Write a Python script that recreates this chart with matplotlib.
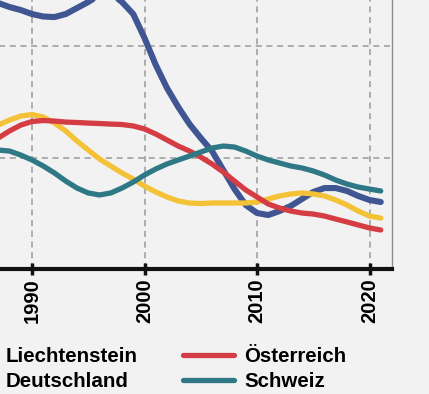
import matplotlib
matplotlib.use('Agg')
import matplotlib.pyplot as plt

years = list(range(1987, 2022))

liechtenstein = [23.86, 23.50, 23.23, 22.87, 22.65, 22.60, 22.87, 23.41, 23.95, 24.60,
                 24.75, 23.95, 22.87, 20.72, 18.30, 16.23, 14.53, 13.00, 11.75, 10.58,
                 8.88, 7.17, 5.74, 5.02, 4.84, 5.20, 5.65, 6.28, 6.91, 7.26,
                 7.26, 7.00, 6.55, 6.19, 6.01]
oesterreich = [11.75, 12.38, 12.91, 13.23, 13.32, 13.27, 13.18, 13.14, 13.09, 13.05,
               13.00, 12.96, 12.83, 12.56, 12.11, 11.57, 11.03, 10.58, 10.04, 9.42,
               8.70, 7.89, 7.09, 6.46, 5.83, 5.47, 5.20, 5.02, 4.93, 4.75,
               4.48, 4.22, 3.95, 3.68, 3.50]
deutschland = [12.91, 13.36, 13.72, 13.86, 13.63, 13.09, 12.38, 11.48, 10.67, 9.87,
               9.24, 8.61, 8.07, 7.44, 6.91, 6.46, 6.10, 5.92, 5.87, 5.92,
               5.92, 5.92, 5.92, 6.01, 6.28, 6.55, 6.73, 6.82, 6.73, 6.55,
               6.19, 5.74, 5.20, 4.75, 4.57]
schweiz = [10.67, 10.58, 10.22, 9.78, 9.24, 8.61, 7.89, 7.26, 6.82, 6.64,
           6.82, 7.26, 7.80, 8.43, 8.97, 9.42, 9.78, 10.13, 10.49, 10.85,
           11.03, 10.94, 10.58, 10.13, 9.78, 9.51, 9.24, 9.06, 8.79, 8.43,
           7.98, 7.62, 7.35, 7.17, 7.00]

# legend is filled column by column: left column Liechtenstein/Deutschland
series = [
    ('Liechtenstein', liechtenstein, '#3f5693'),
    ('Deutschland', deutschland, '#f3c236'),
    ('Österreich', oesterreich, '#d43d44'),
    ('Schweiz', schweiz, '#2f7885'),
]
xticks = [1990, 2000, 2010, 2020]
yticks = [0, 10, 20]

bg = '#f2f2f2'
fig = plt.figure(figsize=(4.29, 3.94), dpi=100, facecolor=bg)
# axes deliberately reach past the left and top edges of the figure
ax = fig.add_axes([-80.5 / 429, 125 / 394, 472.5 / 429, 301 / 394])
ax.set_facecolor(bg)

for name, vals, col in series:
    lw = 4.4 if name == 'Liechtenstein' else 3.8
    ax.plot(years, vals, color=col, lw=lw, label=name, solid_capstyle='round',
            solid_joinstyle='round')

ax.set_xlim(1980, 2022)
ax.set_ylim(0, 27)
ax.set_xticks(xticks)
ax.set_xticklabels([str(x) for x in xticks], rotation=90, fontsize=14.5,
                   fontweight='bold', family='Liberation Sans')
ax.set_yticks(yticks)
ax.set_yticklabels([])
ax.grid(True, color='#9a9a9a', linestyle=(0, (4, 3)), linewidth=1.1)
ax.set_axisbelow(True)

ax.spines['top'].set_visible(False)
ax.spines['left'].set_visible(False)
ax.spines['right'].set_color('#8c8c8c')
ax.spines['right'].set_linewidth(1.0)
ax.spines['bottom'].set_color('#111111')
ax.spines['bottom'].set_linewidth(3)
ax.tick_params(axis='x', direction='inout', length=9, width=2.5, color='#111111', pad=2)
ax.tick_params(axis='y', length=0)

fig.legend(loc='upper left', bbox_to_anchor=(-55 / 429, 47 / 394), ncol=2,
           frameon=False, borderpad=0, borderaxespad=0,
           handlelength=2.48, handletextpad=0.49, columnspacing=2.19,
           labelspacing=0.3,
           prop={'family': 'Liberation Sans', 'weight': 'bold', 'size': 14.8})

fig.savefig('out.png', dpi=100, facecolor=bg)
